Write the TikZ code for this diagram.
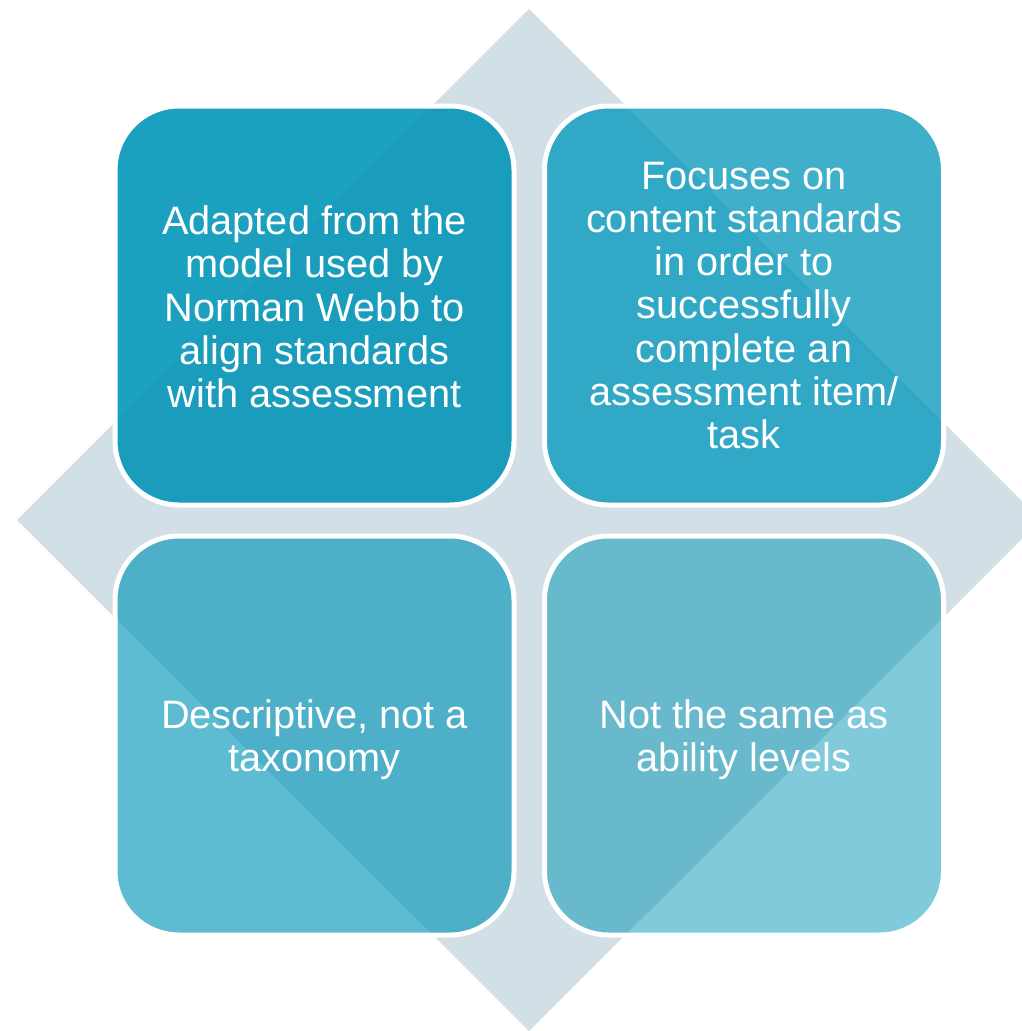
\documentclass[tikz,border=0pt]{standalone}
\usepackage{fontspec}
\setmainfont{Liberation Sans}
% backdrop diamond and card tints (inside / outside the diamond)
\definecolor{diamondcol}{HTML}{D3DFE7}
\definecolor{tlin}{HTML}{1A9DBD}
\definecolor{tlout}{HTML}{1CA0C0}
\definecolor{trin}{HTML}{31A8C5}
\definecolor{trout}{HTML}{40AFCA}
\definecolor{blin}{HTML}{4EAFC8}
\definecolor{blout}{HTML}{5DBBD2}
\definecolor{brin}{HTML}{69B9CD}
\definecolor{brout}{HTML}{80CADB}
\begin{document}
\begin{tikzpicture}[x=0.75pt,y=-0.75pt,
  card/.style={draw=white, line width=3.75pt, rounded corners=48pt,
    minimum width=299.25pt, minimum height=299.25pt, inner sep=0pt},
  cardtext/.style={text=white, align=center, inner sep=0pt,
    font=\fontsize{29.8}{32.3}\selectfont}]
\useasboundingbox (0,0) rectangle (1021,1031);
% diamond corners
\coordinate (dt) at (529,9);
\coordinate (dr) at (1041,520);
\coordinate (db) at (529,1031);
\coordinate (dl) at (17,520);
\fill[diamondcol] (dt) -- (dr) -- (db) -- (dl) -- cycle;
% four cards, darker where they lie over the diamond
\node[card, fill=tlout, path picture={\fill[tlin] (dt) -- (dr) -- (db) -- (dl) -- cycle;}] (tl) at (314.5,305.5) {};
\node[card, fill=trout, path picture={\fill[trin] (dt) -- (dr) -- (db) -- (dl) -- cycle;}] (tr) at (744,305.5) {};
\node[card, fill=blout, path picture={\fill[blin] (dt) -- (dr) -- (db) -- (dl) -- cycle;}] (bl) at (314.5,735.5) {};
\node[card, fill=brout, path picture={\fill[brin] (dt) -- (dr) -- (db) -- (dl) -- cycle;}] (br) at (744,735.5) {};
% card texts
\node[cardtext] (tltext) at ([yshift=-1pt]tl.center) {Adapted from the\\model used by\\Norman Webb to\\align standards\\with assessment};
\node[cardtext] (trtext) at (tr.center) {Focuses on\\content standards\\in order to\\successfully\\complete an\\assessment item/\\task};
\node[cardtext] (bltext) at ([yshift=-3pt]bl.center) {Descriptive, not a\\taxonomy};
\node[cardtext] (brtext) at ([yshift=-3pt]br.center) {Not the same as\\ability levels};
\end{tikzpicture}
\end{document}
